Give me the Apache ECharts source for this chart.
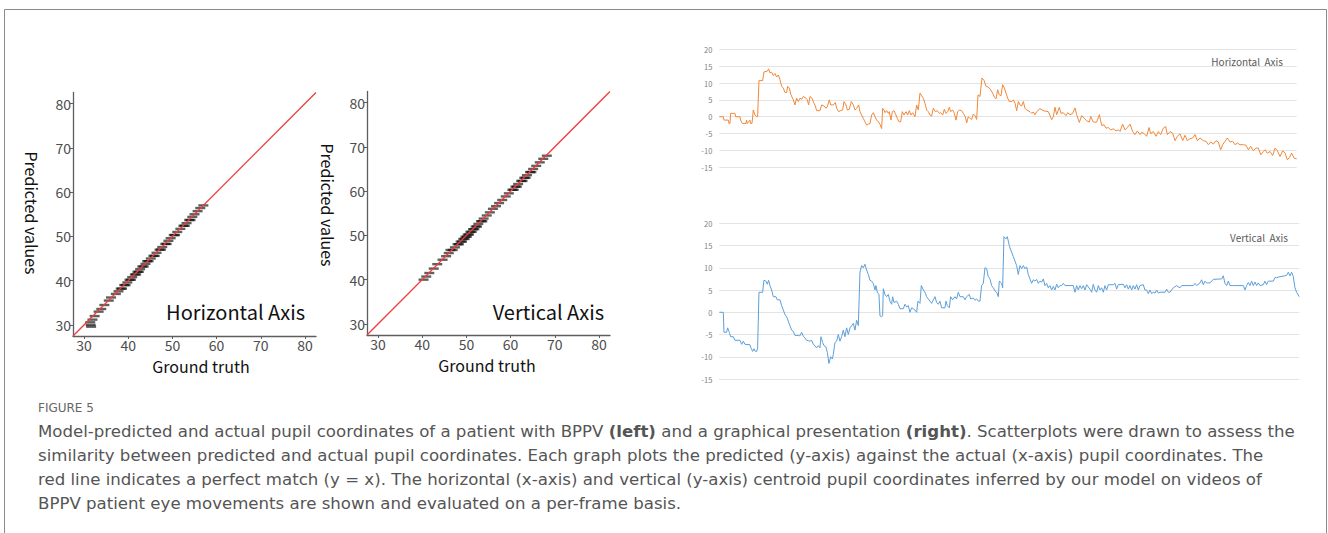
<!DOCTYPE html>
<html><head><meta charset="utf-8">
<script src="https://cdn.jsdelivr.net/npm/echarts@6/dist/echarts.min.js"></script>
<style>html,body{margin:0;padding:0;background:#fff;}#c{width:1328px;height:533px;}</style>
</head><body><div id="c"></div>
<script>
// ---------- data ----------
const scatterTicks = [30, 40, 50, 60, 70, 80];
const scatterRange = [27.5, 82.5];
const identityLine = [[27.5, 27.5], [82.5, 82.5]];
// [ground truth, predicted]
const horizPoints = [[31.6,29.6],[31.5,30.0],[31.4,30.6],[31.9,31.2],[32.4,32.0],[33.3,33.0],[33.9,33.6],[34.6,34.5],[35.6,35.5],[36.1,36.2],[37.2,37.0],[37.8,37.6],[38.3,38.2],[38.6,38.2],[39.1,39.0],[39.4,39.0],[39.8,39.6],[40.3,40.2],[40.6,40.2],[40.9,40.8],[41.5,41.4],[41.8,41.4],[42.1,42.0],[42.4,42.0],[42.7,42.6],[43.2,43.2],[43.5,43.2],[43.9,43.8],[44.3,44.4],[44.6,44.4],[45.1,45.0],[45.7,45.6],[46.0,45.6],[46.4,46.3],[47.1,47.0],[47.4,47.0],[47.7,47.6],[48.4,48.3],[48.7,48.3],[49.1,49.0],[49.6,49.6],[50.3,50.3],[50.6,50.3],[51.1,51.0],[51.8,51.7],[52.5,52.4],[52.8,52.4],[53.2,53.0],[53.8,53.7],[54.1,53.7],[54.5,54.4],[55.0,55.0],[55.7,55.7],[56.3,56.4],[57.0,57.0]];
const vertPoints = [[40.3,40.0],[40.9,40.7],[41.6,41.5],[42.6,42.5],[43.4,43.5],[44.6,44.5],[45.4,45.3],[46.0,46.0],[46.4,46.7],[46.9,46.7],[47.4,47.3],[48.0,48.0],[48.3,48.0],[48.7,48.6],[49.0,48.6],[49.3,49.2],[49.6,49.2],[49.8,49.7],[50.1,49.7],[50.3,50.2],[50.6,50.2],[50.9,50.8],[51.2,50.8],[51.5,51.4],[51.8,51.4],[52.1,52.0],[52.4,52.0],[52.7,52.6],[53.3,53.2],[53.6,53.2],[53.9,53.8],[54.6,54.5],[55.3,55.2],[56.0,56.0],[56.7,56.6],[57.4,57.3],[58.1,58.0],[58.9,58.8],[59.6,59.5],[60.4,60.3],[60.7,60.3],[61.1,61.0],[61.4,61.0],[61.7,61.6],[62.4,62.3],[62.7,62.3],[63.1,63.0],[63.4,63.0],[63.7,63.6],[64.4,64.3],[64.7,64.3],[65.1,65.0],[65.8,65.7],[66.6,66.5],[67.4,67.3],[68.2,68.0]];

const lineTicks = [-15, -10, -5, 0, 5, 10, 15, 20];
// [frame, value]
const horizSeries = [[0,0],[12,0],[14,-1],[27,-1],[29,-2],[32,-2],[34,1],[47,1],[49,0],[62,0],[64,-1],[69,-2],[80,-2],[82,-1],[84,-2],[92,-1],[94,-2],[98,-2],[102,2],[107,0.5],[112,0],[115,0],[119,10.7],[130,10.7],[134,13.3],[144,13.5],[148,14.2],[152,13],[157,13.2],[162,12.2],[167,12.8],[172,11.8],[177,12.4],[182,11],[187,9],[192,8.5],[197,7.2],[202,7.2],[205,9],[210,8.5],[215,6.5],[222,5],[227,3.5],[232,5.5],[237,4.5],[242,5.5],[247,5.2],[252,6],[260,5.5],[264,5],[268,3.5],[272,6],[278,5.5],[284,4],[288,3.2],[292,1.8],[302,1.8],[307,3.5],[314,3.2],[320,2.5],[324,3],[330,5],[334,3.5],[342,3.5],[348,4.2],[352,2.5],[358,1.5],[364,1.8],[370,2],[374,4.5],[380,3.5],[384,2],[390,2.2],[396,4.5],[402,3.5],[407,2],[412,2.5],[418,3.5],[422,1.5],[427,0.5],[432,-0.5],[437,-1.5],[442,-2.5],[447,-2.2],[452,-2],[457,0.5],[462,1.2],[467,0],[472,-1],[477,-1.5],[482,-2.2],[487,-3.5],[490,2.5],[494,2],[497,1.2],[502,1.8],[507,1],[510,1.5],[515,-1],[519,1.5],[524,1.8],[530,0.5],[534,-0.5],[539,-1.5],[544,-1.5],[549,1.5],[554,0.5],[560,1.5],[565,0.5],[570,1.8],[575,0.5],[580,1.2],[587,0],[592,3.5],[597,2],[602,7],[607,6.2],[612,5.5],[617,4],[622,2],[627,1.5],[632,0.5],[637,0.2],[642,2.5],[648,1.5],[654,1.8],[660,1],[664,1.2],[670,0.5],[675,2.2],[680,1],[685,1.5],[690,2.8],[694,1.5],[700,2],[705,1],[710,-1],[715,1.5],[720,2],[727,1.8],[732,1],[738,0],[742,-1.8],[747,0],[752,-0.5],[757,-0.8],[762,0.8],[767,0.3],[772,-0.8],[776,6.5],[782,6],[788,11.5],[794,10.8],[800,9],[807,8.8],[814,8],[820,7],[825,5.8],[830,5.3],[835,8],[840,6.5],[845,6.2],[850,9.5],[855,8.5],[860,7],[865,5.5],[870,4.5],[877,4.5],[882,5],[887,4],[892,1.8],[897,4.5],[902,3.5],[907,3.2],[912,4.5],[917,2.5],[922,2],[932,1.5],[937,1],[942,1.4],[947,0.6],[952,1.5],[962,2.4],[972,1.8],[987,1.5],[997,-0.9],[1002,0],[1007,2.8],[1012,0.6],[1020,2.8],[1025,1],[1032,1.2],[1040,0.3],[1045,1.2],[1052,0.6],[1060,1],[1067,2.6],[1072,0.6],[1080,-1.7],[1087,0.3],[1094,-0.4],[1102,-1.2],[1110,-1.6],[1114,0.1],[1122,-1.6],[1132,-1.6],[1140,0.6],[1147,-2.6],[1154,-2.4],[1160,-3.4],[1167,-3.2],[1174,-3.9],[1182,-3.6],[1190,-4.2],[1197,-3.9],[1202,-4.4],[1210,-2.2],[1217,-3.9],[1224,-3.2],[1232,-2.2],[1240,-4.4],[1247,-5.3],[1254,-4.2],[1262,-5.3],[1267,-4.6],[1274,-5],[1282,-5.8],[1289,-3.2],[1294,-5],[1302,-4.4],[1310,-5.8],[1317,-4.4],[1324,-5.3],[1332,-3.4],[1339,-2.9],[1344,-5.3],[1352,-4.4],[1360,-4.9],[1367,-7.1],[1374,-5.8],[1382,-5.1],[1390,-7.1],[1397,-5.5],[1404,-7.1],[1412,-6.5],[1420,-6.3],[1427,-5.3],[1434,-7.1],[1442,-6.3],[1452,-7.1],[1460,-7.3],[1467,-8.3],[1474,-7.5],[1482,-8.1],[1490,-7.1],[1497,-7.5],[1504,-9.8],[1510,-8.3],[1517,-7.3],[1524,-6.3],[1532,-7.5],[1540,-7.3],[1547,-8.3],[1554,-7.8],[1562,-8.3],[1572,-8.3],[1580,-8.5],[1587,-9.8],[1594,-8.8],[1602,-10.1],[1610,-9.3],[1617,-9.3],[1624,-11.3],[1632,-10.3],[1637,-9.8],[1644,-10.8],[1652,-10.3],[1660,-11.5],[1667,-9.3],[1674,-10.1],[1682,-11.8],[1690,-10.1],[1697,-10.8],[1704,-12.8],[1710,-12.1],[1717,-10.8],[1724,-12.3],[1732,-12.5]];
const vertSeries = [[0,0],[12,0],[14,-4.5],[22,-4.5],[25,-3.5],[30,-4.5],[34,-5.5],[42,-5.5],[47,-6.3],[62,-6.3],[67,-7.2],[72,-6.5],[77,-7.2],[92,-7.3],[95,-8],[100,-8.8],[104,-8.2],[108,-8.8],[112,-8.8],[115,-8],[119,4.5],[130,4.5],[134,7.2],[140,7],[144,6.3],[148,7.2],[152,6],[157,5],[162,3.5],[170,3.5],[174,2.8],[182,2.8],[187,1.5],[192,0.5],[197,-0.5],[202,-1],[207,-2],[212,-3],[217,-4],[222,-4.3],[227,-5.2],[237,-5.2],[242,-5.3],[247,-4.5],[252,-5.4],[257,-5.8],[262,-6.3],[267,-6.4],[272,-6.5],[277,-6.3],[282,-7.2],[287,-7.5],[292,-8],[297,-7.5],[302,-8],[305,-5.5],[310,-6.8],[314,-7.5],[320,-7.8],[324,-9],[329,-11.5],[334,-10],[339,-10.5],[342,-9.5],[347,-6.8],[352,-6.5],[357,-5],[362,-6.5],[367,-5.5],[372,-4],[377,-5.5],[382,-3.5],[387,-5],[392,-3.5],[397,-3],[402,-2.5],[407,-4],[412,-1.8],[417,-3],[422,9],[427,10.5],[432,10],[437,10.8],[442,9.5],[447,8.5],[452,7.2],[457,7],[462,6.5],[467,5],[470,6],[474,4.5],[479,4],[482,-0.8],[487,-1],[490,-0.8],[492,5.3],[497,4],[502,3.5],[507,4],[512,2.5],[517,1.8],[520,3.5],[524,2.2],[532,2.5],[537,1.8],[542,0.8],[552,0.8],[557,1.8],[562,1.2],[567,1.5],[572,0],[577,1],[582,0.8],[587,0.5],[592,0],[596,2.5],[602,2],[606,6],[612,5],[617,4.5],[622,3.5],[627,3],[632,2.5],[637,2],[642,2.8],[647,3.5],[652,2.2],[657,1.8],[662,2.5],[667,1],[677,1],[680,2.5],[684,1.5],[690,1],[694,3.5],[700,2.8],[707,3.5],[712,3],[717,4.5],[722,3.5],[732,3.5],[737,2.8],[742,3.5],[750,4],[754,3],[762,3.2],[767,2.7],[772,3],[777,2.5],[782,2.5],[787,6],[792,6.5],[797,10],[802,9.8],[807,8],[812,7.5],[817,6],[822,5.5],[827,4.8],[832,4.5],[837,3.5],[840,7],[847,6.5],[850,5.5],[854,17],[860,16.5],[864,17],[870,15],[872,14.5],[877,13.5],[882,12.5],[887,11.5],[892,10.5],[897,8.5],[902,10.5],[907,9.8],[912,10.5],[917,9.8],[922,10.2],[927,8.5],[932,7.5],[937,6.5],[942,7.3],[947,7],[952,7.4],[957,6.5],[962,7],[967,6.8],[972,7.5],[977,6],[982,6.5],[987,5.5],[992,6],[997,5],[1002,5.8],[1007,5],[1012,6.3],[1017,5.5],[1022,6],[1027,6],[1032,6.5],[1037,6],[1062,6],[1067,4.5],[1072,6],[1077,5],[1082,6],[1087,5.3],[1092,6],[1097,5],[1102,6.2],[1112,5.2],[1117,4.5],[1122,6.3],[1127,5],[1132,4.5],[1137,6],[1142,5],[1147,5.5],[1152,4.5],[1157,6],[1162,5],[1167,6.2],[1182,6.2],[1187,6.5],[1192,5.2],[1197,6.2],[1212,6.3],[1217,5.5],[1222,6.2],[1227,5.2],[1232,6],[1237,5],[1242,6],[1247,5.2],[1252,6.2],[1257,5],[1262,6],[1272,6.2],[1277,5],[1282,5],[1287,4.2],[1292,5],[1297,4.2],[1302,4.5],[1307,4.3],[1312,5],[1317,4.3],[1322,4.5],[1337,4.5],[1342,5.2],[1347,4.5],[1352,4.5],[1362,5.5],[1372,6],[1382,5.5],[1387,6],[1422,6],[1427,6.5],[1432,6],[1442,6.6],[1447,7.3],[1452,6.2],[1457,7],[1462,6.6],[1472,6.6],[1482,7.4],[1507,7.5],[1512,8.2],[1517,6.5],[1522,6],[1527,7],[1532,6],[1542,6],[1572,6],[1577,5],[1582,6],[1587,6.7],[1592,6],[1597,7],[1602,6],[1607,6.8],[1612,6],[1617,6.6],[1622,6],[1632,6.2],[1637,7],[1642,6.2],[1647,7],[1662,7],[1667,7.8],[1672,7.8],[1682,8],[1697,8.2],[1702,8.3],[1707,9],[1712,8.2],[1717,9],[1722,8],[1727,5.5],[1732,4.5],[1740,3.5]];

const figureLabel = 'FIGURE 5';
const captionLines = [
  'Model-predicted and actual pupil coordinates of a patient with BPPV {b|(left)} and a graphical presentation {b|(right)}. Scatterplots were drawn to assess the',
  'similarity between predicted and actual pupil coordinates. Each graph plots the predicted (y-axis) against the actual (x-axis) pupil coordinates. The',
  'red line indicates a perfect match (y = x). The horizontal (x-axis) and vertical (y-axis) centroid pupil coordinates inferred by our model on videos of',
  'BPPV patient eye movements are shown and evaluated on a per-frame basis.'
];

// ---------- chart ----------
const KR = '"Noto Sans CJK KR", "Noto Sans", sans-serif';
const CAP = '"DejaVu Sans", "Open Sans", sans-serif';
const chart = echarts.init(document.getElementById('c'), null, {renderer: 'svg'});

function scatterAxis(grid) {
  return {
    gridIndex: grid, type: 'value', min: scatterRange[0], max: scatterRange[1],
    axisLine: {show: true, onZero: false, lineStyle: {color: '#5e5e5e', width: 1.3}},
    axisTick: {show: true, customValues: scatterTicks, length: 3, lineStyle: {color: '#5e5e5e', width: 1}},
    axisLabel: {customValues: scatterTicks, fontSize: 14, color: '#4d4d4d', fontFamily: KR, margin: 2, lineHeight: 13},
    splitLine: {show: false}
  };
}
function lineYAxis(grid) {
  return {
    gridIndex: grid, type: 'value', min: -15, max: 20, interval: 5,
    axisLine: {show: false}, axisTick: {show: false},
    axisLabel: {fontSize: 7.5, color: '#808080', fontFamily: KR, margin: 7},
    splitLine: {show: true, lineStyle: {color: '#e4e4e4', width: 1}}
  };
}
function lineXAxis(grid, max) {
  return {gridIndex: grid, type: 'value', min: 0, max: max, show: false, splitLine: {show: false}};
}

const pointStyle = {color: 'rgba(0,0,0,0.78)'};

chart.setOption({
  animation: false,
  backgroundColor: '#fff',
  title: [
    {text: figureLabel, left: 38, top: 402, padding: 0,
     textStyle: {fontSize: 12, fontFamily: CAP, color: '#666', fontWeight: 'normal'}},
    {text: captionLines.join('\n'), left: 38, top: 420, padding: 0,
     textStyle: {fontSize: 16.6, fontFamily: CAP, color: '#555', fontWeight: 'normal', lineHeight: 23.8,
       rich: {b: {fontSize: 16.6, fontFamily: CAP, color: '#555', fontWeight: 'bold', lineHeight: 23.8}}}}
  ],
  grid: [
    {left: 73, top: 92.5, width: 243, height: 243.5},
    {left: 367, top: 91.5, width: 243, height: 243.5},
    {left: 719.3, top: 49.3, width: 577.4, height: 118},
    {left: 719.3, top: 223.3, width: 580, height: 155.7}
  ],
  xAxis: [scatterAxis(0), scatterAxis(1), lineXAxis(2, 1732), lineXAxis(3, 1740)],
  yAxis: [scatterAxis(0), scatterAxis(1), lineYAxis(2), lineYAxis(3)],
  series: [
    {type: 'scatter', xAxisIndex: 0, yAxisIndex: 0, data: horizPoints, symbol: 'rect', symbolSize: [10, 2.4], itemStyle: pointStyle, silent: true},
    {type: 'line', xAxisIndex: 0, yAxisIndex: 0, data: identityLine, showSymbol: false, lineStyle: {color: '#ee3b3b', width: 1.3}, silent: true},
    {type: 'scatter', xAxisIndex: 1, yAxisIndex: 1, data: vertPoints, symbol: 'rect', symbolSize: [10, 2.4], itemStyle: pointStyle, silent: true},
    {type: 'line', xAxisIndex: 1, yAxisIndex: 1, data: identityLine, showSymbol: false, lineStyle: {color: '#ee3b3b', width: 1.3}, silent: true},
    {type: 'line', xAxisIndex: 2, yAxisIndex: 2, data: horizSeries, showSymbol: false, lineStyle: {color: '#f0883a', width: 1}, silent: true},
    {type: 'line', xAxisIndex: 3, yAxisIndex: 3, data: vertSeries, showSymbol: false, lineStyle: {color: '#5c9fd8', width: 1}, silent: true}
  ],
  graphic: [
    {type: 'rect', shape: {x: 4.5, y: 9.5, width: 1322, height: 540}, style: {fill: 'none', stroke: '#8a8a8a', lineWidth: 1}, silent: true},
    {type: 'text', x: 305, y: 311, style: {text: 'Horizontal Axis', align: 'right', verticalAlign: 'middle', fontSize: 20, fontFamily: KR, fill: '#111'}},
    {type: 'text', x: 604, y: 311, style: {text: 'Vertical Axis', align: 'right', verticalAlign: 'middle', fontSize: 20, fontFamily: KR, fill: '#111'}},
    {type: 'text', x: 201, y: 365.5, style: {text: 'Ground truth', align: 'center', verticalAlign: 'middle', fontSize: 16, fontFamily: KR, fill: '#111'}},
    {type: 'text', x: 487, y: 364.5, style: {text: 'Ground truth', align: 'center', verticalAlign: 'middle', fontSize: 16, fontFamily: KR, fill: '#111'}},
    {type: 'text', x: 32, y: 213, rotation: -Math.PI / 2, style: {text: 'Predicted values', align: 'center', verticalAlign: 'middle', fontSize: 16, fontFamily: KR, fill: '#111'}},
    {type: 'text', x: 328, y: 205, rotation: -Math.PI / 2, style: {text: 'Predicted values', align: 'center', verticalAlign: 'middle', fontSize: 16, fontFamily: KR, fill: '#111'}},
    {type: 'text', x: 1283, y: 61, style: {text: 'Horizontal  Axis', align: 'right', verticalAlign: 'middle', fontSize: 10, fontFamily: KR, fill: '#5a5a5a'}},
    {type: 'text', x: 1288, y: 237, style: {text: 'Vertical  Axis', align: 'right', verticalAlign: 'middle', fontSize: 10, fontFamily: KR, fill: '#5a5a5a'}}
  ]
});
</script>
</body></html>
